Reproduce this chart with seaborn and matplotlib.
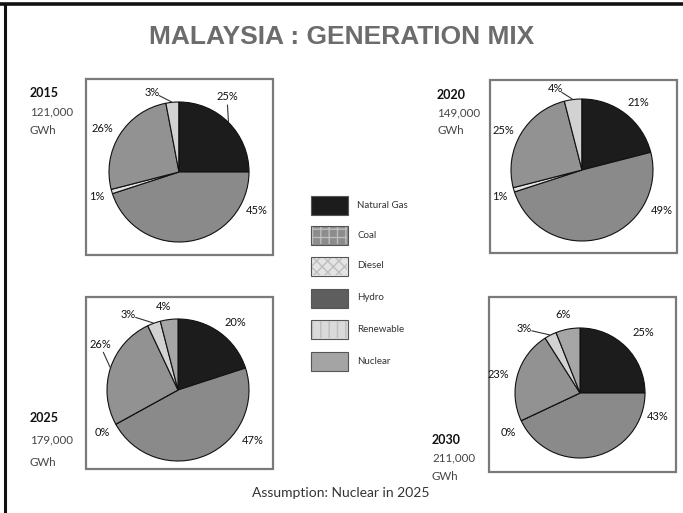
import numpy as np
import matplotlib
matplotlib.use("Agg")
import matplotlib.pyplot as plt
from matplotlib.patches import Rectangle
import seaborn as sns

# ---------------- data ----------------
categories = ["Natural Gas", "Coal", "Diesel", "Hydro", "Renewable", "Nuclear"]
years = ["2015", "2020", "2025", "2030"]
generation = ["121,000", "149,000", "179,000", "211,000"]
share_2015 = [25, 45, 1, 26, 3, 0]
share_2020 = [21, 49, 1, 25, 4, 0]
share_2025 = [20, 47, 0, 26, 3, 4]
share_2030 = [25, 43, 0, 23, 3, 6]
shares = [share_2015, share_2020, share_2025, share_2030]
title = "MALAYSIA : GENERATION MIX"
note = "Assumption: Nuclear in 2025"

# ---------------- style ----------------
sns.set_theme(style="white")
plt.rcParams["font.family"] = ["Lato", "DejaVu Sans"]

pie_colors = ["#1c1c1c", "#8a8a8a", "#e2e2e2", "#929292", "#d2d2d2", "#a6a6a6"]
legend_colors = ["#1c1c1c", "#8c8c8c", "#e4e4e4", "#5e5e5e", "#dadada", "#a4a4a4"]
legend_hatch = [None, "++", "xxx", None, "||", None]

W, H = 683, 513
fig = plt.figure(figsize=(W / 100, H / 100), dpi=100)
ax = fig.add_axes([0, 0, 1, 1])
ax.set_xlim(0, W)
ax.set_ylim(0, H)
ax.axis("off")

def Y(y):
    return H - y

# layout (pixel coordinates, image convention y-down)
boxes = [(86, 79, 273, 255), (490, 80, 677, 253), (86, 297, 273, 469), (489, 297, 676, 472)]
centers = [(179, 172), (582, 170), (178, 390), (580, 393)]
radii = [70, 71, 71, 65]
year_pos = [(30, 93), (437, 95), (30, 418), (432, 440)]
year_gap = [19, 18, 22, 18]
label_pos = [
    [(227, 97), (257, 210), (97, 197), (102, 128), (152, 92), None],
    [(638, 103), (662, 210), (500, 197), (503, 131), (555, 88), None],
    [(235, 322), (253, 440), (102, 432), (100, 345), (128, 315), (163, 307)],
    [(643, 333), (658, 417), (508, 433), (498, 374), (524, 329), (563, 315)],
]
leaders = [
    [True, False, False, False, True, False],
    [False, False, False, False, True, False],
    [False, False, False, True, True, False],
    [False, False, False, False, True, False],
]

# outer frame (top and left)
ax.plot([0, W], [Y(4), Y(4)], color="#111111", lw=2.6, solid_capstyle="butt")
ax.plot([5, 5], [Y(3), 0], color="#111111", lw=2.2, solid_capstyle="butt")

# title
ax.text(W / 2, Y(37), title, ha="center", va="center", fontsize=19,
        fontweight="bold", color="#6c6c6c", family=["Liberation Sans", "DejaVu Sans"])

for i in range(4):
    x0, y0, x1, y1 = boxes[i]
    ax.add_patch(Rectangle((x0, Y(y1)), x1 - x0, y1 - y0, fill=False,
                           edgecolor="#7a7a7a", lw=1.6))
    cx, cy = centers[i]
    r = radii[i]
    wedges, _ = ax.pie(shares[i], colors=pie_colors, startangle=90, counterclock=False,
                       center=(cx, Y(cy)), radius=r, frame=True,
                       wedgeprops=dict(edgecolor="#111111", linewidth=0.8))
    for j, w in enumerate(wedges):
        pos = label_pos[i][j]
        if pos is None:
            continue
        lx, ly = pos
        ax.text(lx, Y(ly), f"{shares[i][j]:.0f}%", ha="center", va="center",
                fontsize=8, color="#111111")
        if leaders[i][j]:
            th = np.deg2rad((w.theta1 + w.theta2) / 2)
            ex, ey = cx + r * np.cos(th), Y(cy) + r * np.sin(th)
            sx, sy = lx, Y(ly)
            d = np.hypot(ex - sx, ey - sy)
            ux, uy = (ex - sx) / d, (ey - sy) / d
            ax.plot([sx + ux * 8, ex - ux * 1], [sy + uy * 8, ey - uy * 1],
                    color="#333333", lw=0.8)
    yx, yy = year_pos[i]
    ax.text(yx, Y(yy), years[i], ha="left", va="center", fontsize=9,
            fontweight="bold", color="#111111")
    ax.text(yx, Y(yy + year_gap[i]), generation[i], ha="left", va="center",
            fontsize=8.3, color="#444444")
    ax.text(yx, Y(yy + 2 * year_gap[i]), "GWh", ha="left", va="center",
            fontsize=8.3, color="#444444")

# legend
leg_rows = [205, 235, 266, 298, 329, 361]
for k, name in enumerate(categories):
    yc = leg_rows[k]
    ax.add_patch(Rectangle((311, Y(yc + 9.5)), 37, 19, facecolor=legend_colors[k],
                           edgecolor="#555555", lw=0.8))
    if legend_hatch[k]:
        ax.add_patch(Rectangle((312, Y(yc + 8.5)), 35, 17, facecolor="none",
                               edgecolor="#bdbdbd", lw=0, hatch=legend_hatch[k]))
    ax.text(357, Y(yc), name, ha="left", va="center", fontsize=7, color="#333333")

ax.text(341, Y(493), note, ha="center", va="center", fontsize=10, color="#333333")

ax.set_xlim(0, W)
ax.set_ylim(0, H)
ax.set_aspect("auto")
fig.savefig("out.png", dpi=100)
